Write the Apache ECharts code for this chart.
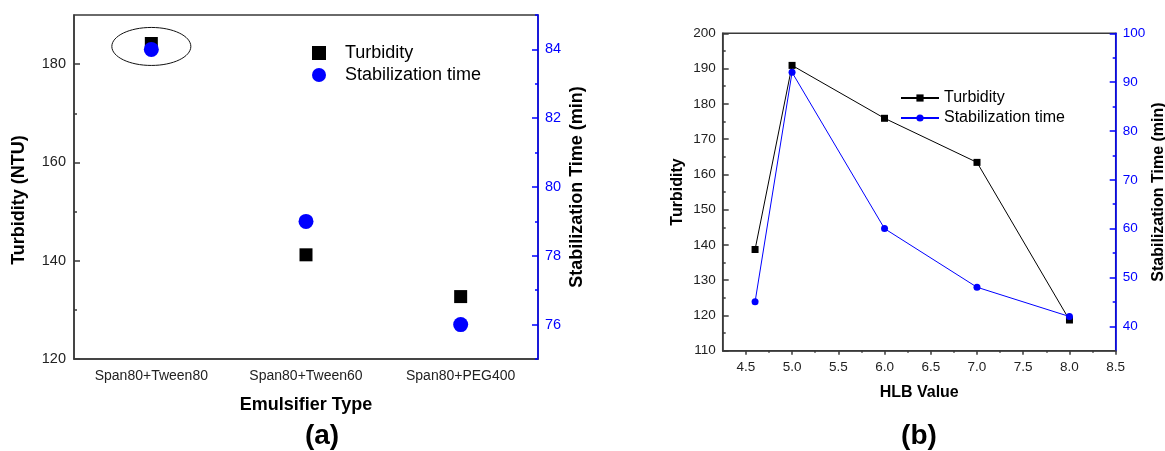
<!DOCTYPE html>
<html>
<head>
<meta charset="utf-8">
<title>Turbidity / stabilization time</title>
<script src="https://cdn.jsdelivr.net/npm/echarts@6.0.0/dist/echarts.min.js"></script>
<style>
html, body { margin: 0; padding: 0; background: #fff; }
#main { width: 1165px; height: 451px; }
</style>
</head>
<body>
<div id="main"></div>
<script>
// (a) emulsifier type
var emulsifiers = ['Span80+Tween80', 'Span80+Tween60', 'Span80+PEG400'];
var turbidityA = [184.2, 141.2, 132.7];
var stabTimeA = [84, 79, 76];
var turbTicksA = [120, 140, 160, 180];
var turbMinorA = [130, 150, 170];
var stabTicksA = [76, 78, 80, 82, 84];
var stabMinorA = [75, 77, 79, 81, 83, 85];

// (b) HLB value
var hlbValues = [4.6, 5.0, 6.0, 7.0, 8.0];
var turbidityB = [138.7, 190.9, 175.9, 163.4, 118.7];
var stabTimeB = [45, 92, 60, 48, 42];
var hlbTicks = [4.5, 5.0, 5.5, 6.0, 6.5, 7.0, 7.5, 8.0, 8.5];
var hlbMinor = [4.75, 5.25, 5.75, 6.25, 6.75, 7.25, 7.75, 8.25];
var turbTicksB = [110, 120, 130, 140, 150, 160, 170, 180, 190, 200];
var turbMinorB = [115, 125, 135, 145, 155, 165, 175, 185, 195];
var stabTicksB = [40, 50, 60, 70, 80, 90, 100];
var stabMinorB = [45, 55, 65, 75, 85, 95];

var FONT = '"Liberation Sans", Arial, sans-serif';
var GREY = '#3a3a3a';
var BLUE = '#0000ff';

// one value axis; minor:true gives only the short ticks (no line, no labels)
var tickAxis = function (p) {
    var minor = !!p.minor;
    var ax = {
        type: 'value',
        gridIndex: p.grid,
        position: p.pos,
        min: p.min,
        max: p.max,
        splitLine: { show: false },
        axisLine: { show: !minor, onZero: false, lineStyle: { color: p.color, width: p.lineWidth } },
        axisTick: {
            show: true,
            inside: p.inside,
            length: p.len,
            customValues: p.ticks,
            lineStyle: { color: p.color, width: p.lineWidth }
        },
        axisLabel: {
            show: !minor,
            customValues: p.ticks,
            margin: p.margin,
            color: p.labelColor,
            fontFamily: FONT,
            fontSize: p.fontSize
        }
    };
    if (p.formatter) ax.axisLabel.formatter = p.formatter;
    if (p.name && !minor) {
        ax.name = p.name;
        ax.nameLocation = 'middle';
        ax.nameGap = p.nameGap;
        ax.nameRotate = p.nameRotate;
        ax.nameTextStyle = { color: '#000', fontFamily: FONT, fontWeight: 'bold', fontSize: p.nameSize };
    }
    return ax;
};

var xAxes = [
    // 0: category labels, ticks at centres
    {
        type: 'category', gridIndex: 0, data: emulsifiers,
        name: 'Emulsifier Type', nameLocation: 'middle', nameGap: 37,
        nameTextStyle: { color: '#000', fontFamily: FONT, fontWeight: 'bold', fontSize: 18 },
        axisLine: { onZero: false, lineStyle: { color: GREY, width: 1.5 } },
        axisTick: { alignWithLabel: true, length: 6, lineStyle: { color: GREY, width: 1.5 } },
        axisLabel: { color: '#222', fontFamily: FONT, fontSize: 14, margin: 10, interval: 0 },
        splitLine: { show: false }
    },
    // 1: short ticks on the category boundaries
    {
        type: 'category', gridIndex: 0, data: emulsifiers,
        axisLine: { show: false },
        axisTick: { alignWithLabel: false, length: 3, lineStyle: { color: GREY, width: 1.5 } },
        axisLabel: { show: false },
        splitLine: { show: false }
    },
    tickAxis({ grid: 1, pos: 'bottom', min: 4.25, max: 8.5, ticks: hlbTicks, len: 4, inside: false,
        color: GREY, lineWidth: 1.5, labelColor: '#222', fontSize: 13.5, margin: 10,
        formatter: function (v) { return v.toFixed(1); },
        name: 'HLB Value', nameGap: 34, nameSize: 16 }),
    tickAxis({ grid: 1, pos: 'bottom', min: 4.25, max: 8.5, ticks: hlbMinor, len: 2, inside: false,
        color: GREY, lineWidth: 1.5, minor: true })
];

var yAxes = [
    tickAxis({ grid: 0, pos: 'left', min: 120, max: 190, ticks: turbTicksA, len: 6, inside: true,
        color: GREY, lineWidth: 1.5, labelColor: '#222', fontSize: 14.5, margin: 8 }),
    tickAxis({ grid: 0, pos: 'left', min: 120, max: 190, ticks: turbMinorA, len: 3, inside: true,
        color: GREY, lineWidth: 1.5, minor: true }),
    tickAxis({ grid: 0, pos: 'right', min: 75, max: 85, ticks: stabTicksA, len: 6, inside: true,
        color: BLUE, lineWidth: 1.5, labelColor: BLUE, fontSize: 14.5, margin: 7,
        name: 'Stabilization Time (min)', nameGap: 30, nameRotate: 90, nameSize: 18 }),
    tickAxis({ grid: 0, pos: 'right', min: 75, max: 85, ticks: stabMinorA, len: 3, inside: true,
        color: BLUE, lineWidth: 1.5, minor: true }),
    tickAxis({ grid: 1, pos: 'left', min: 110, max: 200, ticks: turbTicksB, len: 6, inside: true,
        color: GREY, lineWidth: 1.5, labelColor: '#222', fontSize: 13.5, margin: 7,
        name: 'Turbidity', nameGap: 37, nameRotate: 90, nameSize: 16 }),
    tickAxis({ grid: 1, pos: 'left', min: 110, max: 200, ticks: turbMinorB, len: 3, inside: true,
        color: GREY, lineWidth: 1.5, minor: true }),
    tickAxis({ grid: 1, pos: 'right', min: 35, max: 100, ticks: stabTicksB, len: 6, inside: true,
        color: BLUE, lineWidth: 1.5, labelColor: BLUE, fontSize: 13.5, margin: 7,
        name: 'Stabilization Time (min)', nameGap: 35, nameRotate: 90, nameSize: 16 }),
    tickAxis({ grid: 1, pos: 'right', min: 35, max: 100, ticks: stabMinorB, len: 3, inside: true,
        color: BLUE, lineWidth: 1.5, minor: true })
];

var hlbPairs = function (vals) {
    return hlbValues.map(function (x, i) { return [x, vals[i]]; });
};

var option = {
    animation: false,
    backgroundColor: '#fff',
    grid: [
        { left: 74, right: 627, top: 15, bottom: 92, show: true, borderColor: GREY, borderWidth: 1.5,
          outerBoundsMode: 'none' },
        { left: 722.7, right: 49.3, top: 33.3, bottom: 100.3, show: true, borderColor: GREY, borderWidth: 1.5,
          outerBoundsMode: 'none' }
    ],
    legend: [
        {
            orient: 'vertical', left: 307, top: 39, itemWidth: 14, itemHeight: 14, itemGap: 4,
            selectedMode: false,
            data: [{ name: 'Turbidity', icon: 'rect' }, { name: 'Stabilization time', icon: 'circle' }],
            textStyle: { color: '#000', fontFamily: FONT, fontSize: 18, lineHeight: 18, padding: [0, 0, 0, 14] }
        },
        {
            orient: 'vertical', left: 895, top: 85, itemWidth: 38, itemHeight: 9, itemGap: 4,
            selectedMode: false,
            data: ['HLB Turbidity', 'HLB Stabilization time'],
            formatter: function (n) { return n.replace('HLB ', ''); },
            textStyle: { color: '#000', fontFamily: FONT, fontSize: 16, lineHeight: 16 }
        }
    ],
    xAxis: xAxes,
    yAxis: yAxes,
    series: [
        {
            name: 'Turbidity', type: 'scatter', xAxisIndex: 0, yAxisIndex: 0,
            symbol: 'rect', symbolSize: 13, itemStyle: { color: '#000', opacity: 1 },
            data: turbidityA
        },
        {
            name: 'Stabilization time', type: 'scatter', xAxisIndex: 0, yAxisIndex: 2,
            symbol: 'circle', symbolSize: 15, itemStyle: { color: BLUE, opacity: 1 },
            data: stabTimeA
        },
        {
            name: 'HLB Turbidity', type: 'line', xAxisIndex: 2, yAxisIndex: 4,
            symbol: 'rect', symbolSize: 7, showAllSymbol: true,
            lineStyle: { color: '#000', width: 1 }, itemStyle: { color: '#000', opacity: 1 },
            data: hlbPairs(turbidityB)
        },
        {
            name: 'HLB Stabilization time', type: 'line', xAxisIndex: 2, yAxisIndex: 6,
            symbol: 'circle', symbolSize: 7, showAllSymbol: true,
            lineStyle: { color: BLUE, width: 1 }, itemStyle: { color: BLUE, opacity: 1 },
            data: hlbPairs(stabTimeB)
        }
    ]
};

var chart = echarts.init(document.getElementById('main'), null, { renderer: 'canvas' });
chart.setOption(option);

// ellipse round the first pair of points, panel titles, left axis name
var p1 = chart.convertToPixel({ seriesIndex: 0 }, [0, turbidityA[0]]);
var p2 = chart.convertToPixel({ seriesIndex: 1 }, [0, stabTimeA[0]]);
chart.setOption({
    graphic: [
        {
            type: 'ellipse', z: 10,
            shape: { cx: (p1[0] + p2[0]) / 2, cy: (p1[1] + p2[1]) / 2, rx: 39.5, ry: 19 },
            style: { fill: 'none', stroke: '#111', lineWidth: 1 }
        },
        {
            type: 'text', x: 19.5, y: 200, rotation: Math.PI / 2,
            style: { text: 'Turbidity (NTU)', fill: '#000', font: 'bold 18px ' + FONT, align: 'center', verticalAlign: 'middle' }
        },
        {
            type: 'text', x: 322, y: 436,
            style: { text: '(a)', fill: '#000', font: 'bold 28px ' + FONT, align: 'center', verticalAlign: 'middle' }
        },
        {
            type: 'text', x: 919, y: 436.5,
            style: { text: '(b)', fill: '#000', font: 'bold 28px ' + FONT, align: 'center', verticalAlign: 'middle' }
        }
    ]
});
</script>
</body>
</html>
